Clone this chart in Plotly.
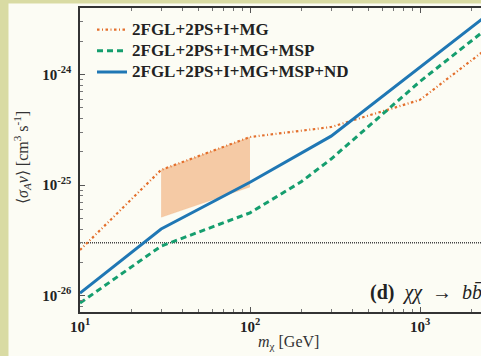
import numpy as np
import plotly.graph_objects as go

# ---------------- data ----------------
mass_mg = [10, 30, 100, 300, 1000, 3000]
sigma_mg = [2.58e-26, 1.37e-25, 2.72e-25, 3.35e-25, 5.9e-25, 2.16e-24]

mass_msp = [10, 30, 100, 200, 300, 1000, 3000]
sigma_msp = [8.55e-27, 2.8e-26, 5.6e-26, 1.07e-25, 1.72e-25, 8.65e-25, 3.29e-24]

mass_nd = [10, 30, 100, 300, 3000]
sigma_nd = [1.05e-26, 4.0e-26, 1.06e-25, 2.77e-25, 4.33e-24]

band_mass = [30, 100]
band_upper = [1.37e-25, 2.72e-25]
band_lower = [5.1e-26, 9.6e-26]

thermal_mass = [10, 3000]
thermal_sigma = [3e-26, 3e-26]

labels = ["2FGL+2PS+I+MG", "2FGL+2PS+I+MG+MSP", "2FGL+2PS+I+MG+MSP+ND"]
x_ticks = [10, 100, 1000]
x_ticktext = ["<b>10<sup>1</sup></b>", "<b>10<sup>2</sup></b>", "<b>10<sup>3</sup></b>"]
y_ticks = [1e-26, 1e-25, 1e-24]
y_ticktext = ["<b>10<sup>-26</sup></b>", "<b>10<sup>-25</sup></b>", "<b>10<sup>-24</sup></b>"]

# ---------------- style ----------------
C_OR = "#e36f2c"
C_GR = "#159e6e"
C_BL = "#1f77b4"
CREAM = "#fcfcf4"
STRIP = "#d9dba3"
SERIF = "Liberation Serif"

fig = go.Figure()

# shaded band
fig.add_trace(go.Scatter(x=band_mass, y=band_lower, mode="lines",
                         line=dict(color="rgba(236,150,80,0.35)", width=0.5),
                         showlegend=False, hoverinfo="skip"))
fig.add_trace(go.Scatter(x=band_mass, y=band_upper, mode="lines", fill="tonexty",
                         fillcolor="rgba(238,152,85,0.5)",
                         line=dict(color="rgba(236,150,80,0.35)", width=0.5),
                         showlegend=False, hoverinfo="skip"))

# thermal line
fig.add_trace(go.Scatter(x=thermal_mass, y=thermal_sigma, mode="lines",
                         line=dict(color="#444", width=1.6, dash="1px,1px"),
                         showlegend=False, hoverinfo="skip"))

def leg(t):
    return '<span style="font-size:17px"><b>' + t + '</b></span>'

fig.add_trace(go.Scatter(x=mass_mg, y=sigma_mg, mode="lines", name=leg(labels[0]),
                         line=dict(color=C_OR, width=2.2, dash="2.5px,2.5px,1px,2.5px")))
fig.add_trace(go.Scatter(x=mass_msp, y=sigma_msp, mode="lines", name=leg(labels[1]),
                         line=dict(color=C_GR, width=3, dash="6px,4px")))
fig.add_trace(go.Scatter(x=mass_nd, y=sigma_nd, mode="lines", name=leg(labels[2]),
                         line=dict(color=C_BL, width=3)))

minor_x = [m * 10 ** e for e in range(1, 4) for m in range(2, 10)]
minor_y = [m * 10.0 ** e for e in range(-27, -23) for m in range(2, 10)]

PW, PH = 401, 304
L, T, B = 80, 8, 44

def px2x(px):
    return (px - L) / PW

def py2y(py):
    return (T + PH - py) / PH

fig.update_layout(
    width=481, height=356,
    margin=dict(l=L, r=0, t=T, b=B),
    paper_bgcolor=CREAM, plot_bgcolor=CREAM,
    font=dict(family=SERIF, color="#222"),
    showlegend=True,
    legend=dict(x=px2x(92), y=py2y(14), xanchor="left", yanchor="top",
                bgcolor="rgba(0,0,0,0)", borderwidth=0,
                font=dict(family=SERIF, size=14, color="#222"),
                traceorder="normal"),
    xaxis=dict(type="log", range=[1, 1 + PW / 170.0],
               showline=True, linecolor="#333", linewidth=1.5, mirror="ticks",
               ticks="inside", ticklen=5, tickwidth=1, tickcolor="#555",
               tickmode="array", tickvals=x_ticks, ticktext=x_ticktext,
               tickfont=dict(family=SERIF, size=15, color="#222"),
               minor=dict(ticks="inside", ticklen=3, tickcolor="#777",
                          tickmode="array", tickvals=minor_x, showgrid=False),
               showgrid=False, zeroline=False),
    yaxis=dict(type="log", range=[-26.149, -26.149 + PH / 110.5],
               showline=True, linecolor="#333", linewidth=1.5, mirror=False,
               ticks="inside", ticklen=5, tickwidth=1, tickcolor="#555",
               tickmode="array", tickvals=y_ticks, ticktext=y_ticktext,
               tickfont=dict(family=SERIF, size=15, color="#222"),
               ticklabelstandoff=4,
               minor=dict(ticks="inside", ticklen=3, tickcolor="#777",
                          tickmode="array", tickvals=minor_y, showgrid=False),
               showgrid=False, zeroline=False),
)

# background strips
fig.add_shape(type="rect", xref="paper", yref="paper", layer="below",
              x0=px2x(-5), x1=px2x(8.5), y0=py2y(360), y1=py2y(-5),
              fillcolor=STRIP, line=dict(width=0))
fig.add_shape(type="rect", xref="paper", yref="paper", layer="below",
              x0=px2x(-5), x1=px2x(490), y0=py2y(3.5), y1=py2y(-5),
              fillcolor=STRIP, line=dict(width=0))

# axis titles
fig.add_annotation(xref="paper", yref="paper", x=px2x(288), y=py2y(342),
                   xanchor="center", yanchor="middle",
                   text="<i>m</i><sub>χ</sub> [GeV]", showarrow=False,
                   font=dict(family=SERIF, size=16, color="#333"))
fig.add_annotation(xref="paper", yref="paper", x=px2x(22), y=py2y(157),
                   xanchor="center", yanchor="middle",
                   text="⟨<i>σ</i><sub><i>A</i></sub><i>v</i>⟩ [cm<sup>3</sup> s<sup>-1</sup>]",
                   textangle=-90, showarrow=False,
                   font=dict(family=SERIF, size=16, color="#333"))

# panel label
fig.add_annotation(xref="paper", yref="paper", x=px2x(484), y=py2y(292),
                   xanchor="right", yanchor="middle",
                   text="<b>(d)</b>  <i>χχ</i>  →  <i>bb̄</i>", showarrow=False,
                   font=dict(family=SERIF, size=20, color="#222"))

fig.write_html("out.html")
